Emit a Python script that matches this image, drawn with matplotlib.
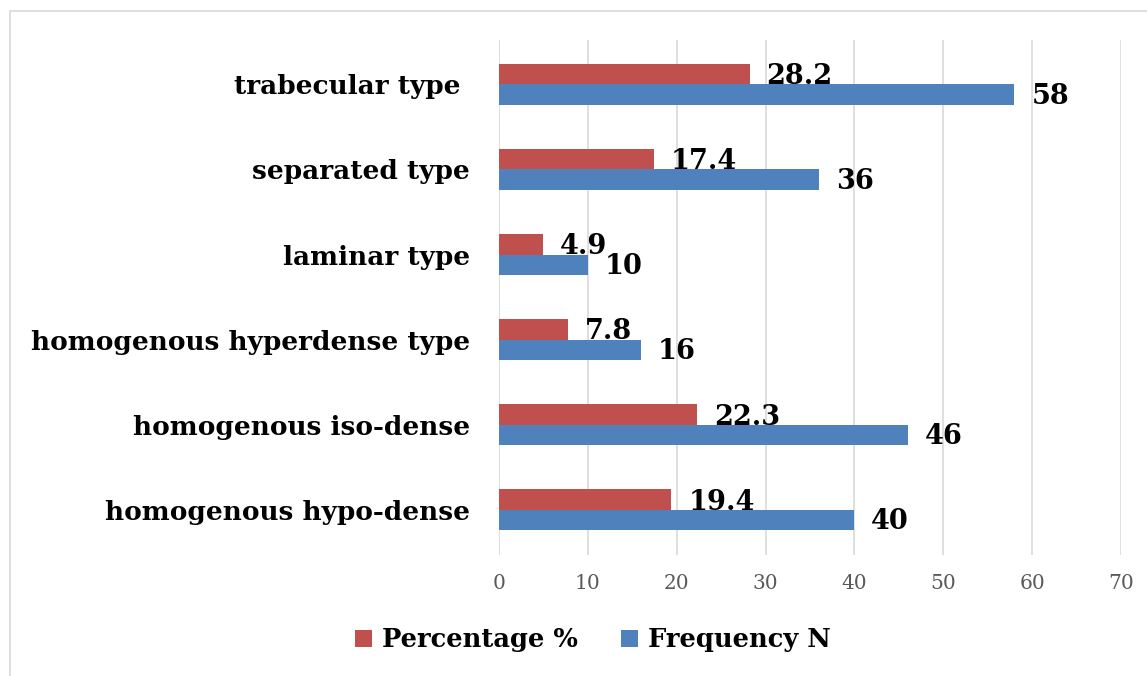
import matplotlib
matplotlib.use("Agg")
import matplotlib.pyplot as plt
import numpy as np
from matplotlib.patches import Rectangle

# categories listed bottom -> top, as drawn
categories = [
    "homogenous hypo-dense",
    "homogenous iso-dense",
    "homogenous hyperdense type",
    "laminar type",
    "separated type",
    "trabecular type ",
]
percentage = [19.4, 22.3, 7.8, 4.9, 17.4, 28.2]
frequency = [40, 46, 16, 10, 36, 58]
xticks = [0, 10, 20, 30, 40, 50, 60, 70]

RED = "#C0504D"
BLUE = "#4F81BD"
GRID = "#D9D9D9"
FONT = "DejaVu Serif"

fig = plt.figure(figsize=(11.47, 6.76), dpi=100)
ax = fig.add_axes([499 / 1147, 1 - 555 / 676, 622 / 1147, 515 / 676])

y = np.arange(len(categories))
h = 0.24
ax.barh(y + h / 2, percentage, height=h, color=RED, label="Percentage %", zorder=3)
ax.barh(y - h / 2, frequency, height=h, color=BLUE, label="Frequency N", zorder=3)

for yi, p, f in zip(y, percentage, frequency):
    ax.text(p + 1.9, yi + h / 2 - 0.03, f"{p}", ha="left", va="center",
            fontsize=19.5, fontweight="bold", family=FONT, zorder=4)
    ax.text(f + 1.9, yi - h / 2 - 0.02, f"{f}", ha="left", va="center",
            fontsize=19.5, fontweight="bold", family=FONT, zorder=4)

ax.set_xlim(0, 70)
ax.set_ylim(-0.53, 5.52)
ax.set_xticks(xticks)
ax.set_xticklabels([str(t) for t in xticks], family=FONT, fontsize=14.5, color="#595959")
ax.set_yticks(y)
ax.set_yticklabels(categories, family=FONT, fontsize=19, fontweight="bold")
ax.tick_params(axis="both", length=0)
ax.tick_params(axis="x", pad=14)
ax.tick_params(axis="y", pad=21)
ax.grid(axis="x", color=GRID, linewidth=1.2, zorder=0)
for s in ax.spines.values():
    s.set_visible(False)

leg = fig.legend(loc="center", bbox_to_anchor=(593 / 1147, 1 - 640 / 676), ncol=2,
                 frameon=False, handlelength=0.65, handleheight=0.65, columnspacing=1.7,
                 handletextpad=0.4,
                 prop={"family": FONT, "size": 18.5, "weight": "bold"})

# outer chart frame
fig.patches.append(Rectangle((10 / 1147, -0.01), 1.1, 1 - 11 / 676 + 0.01,
                             transform=fig.transFigure, fill=False,
                             edgecolor=GRID, linewidth=1.2))

fig.savefig("out.png", dpi=100)
